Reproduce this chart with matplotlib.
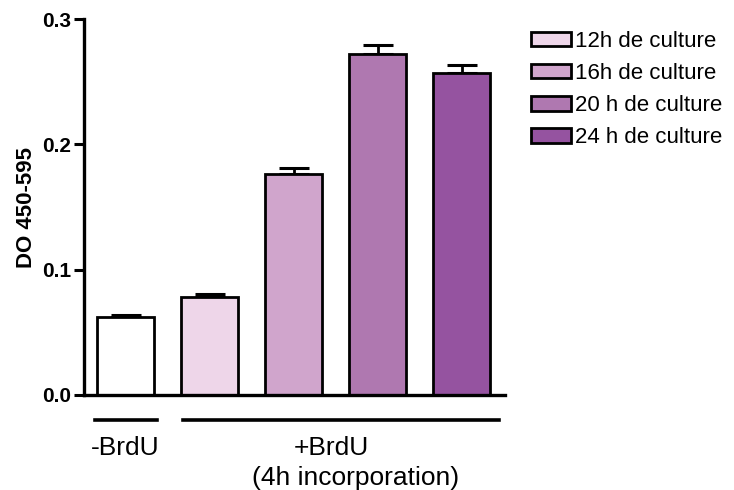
import matplotlib
matplotlib.use("Agg")
import matplotlib.pyplot as plt
from matplotlib.patches import Patch
from matplotlib.lines import Line2D

plt.rcParams['font.family'] = ['Liberation Sans', 'DejaVu Sans']

# data
conditions = ["-BrdU", "12h de culture", "16h de culture", "20 h de culture", "24 h de culture"]
values = [0.062, 0.078, 0.176, 0.272, 0.257]
errors = [0.0015, 0.0022, 0.0048, 0.0075, 0.0065]
colors = ["#FFFFFF", "#EED6E9", "#D0A5CC", "#AF78B0", "#9553A0"]
yticks = [0.0, 0.1, 0.2, 0.3]

fig = plt.figure(figsize=(7.34, 4.9), dpi=100)
ax = fig.add_axes([0.1144, 0.194, 0.574, 0.767])

x = list(range(len(values)))
ax.bar(x, values, width=0.68, color=colors, edgecolor="black", linewidth=2.0, zorder=2)
ax.errorbar(x, values, yerr=[[0] * len(errors), errors], fmt="none", ecolor="black",
            elinewidth=2.0, capsize=11, capthick=2.2, zorder=1)

ax.set_xlim(-0.5, 4.52)
ax.set_ylim(0, 0.3)
ax.set_yticks(yticks)
ax.set_yticklabels([f"{t:.1f}" for t in yticks], fontsize=15, fontweight="bold")
ax.set_xticks([])
ax.tick_params(axis="y", length=7, width=2.2, pad=2)
for s in ["top", "right"]:
    ax.spines[s].set_visible(False)
for s in ["left", "bottom"]:
    ax.spines[s].set_linewidth(2.4)
ax.set_ylabel("DO 450-595", fontsize=16, fontweight="bold", labelpad=4)

# group lines and labels below the axis
trans = ax.get_xaxis_transform()
ax.add_line(Line2D([-0.37, 0.37], [-0.068, -0.068], transform=trans, color="black", lw=2.6, clip_on=False))
ax.add_line(Line2D([0.68, 4.45], [-0.068, -0.068], transform=trans, color="black", lw=2.6, clip_on=False))
ax.text(-0.01, -0.14, "-BrdU", transform=trans, ha="center", va="center", fontsize=19)
ax.text(2.45, -0.14, "+BrdU", transform=trans, ha="center", va="center", fontsize=19)
ax.text(2.74, -0.222, "(4h incorporation)", transform=trans, ha="center", va="center", fontsize=19)

handles = [Patch(facecolor=c, edgecolor="black", linewidth=2.0) for c in colors[1:]]
fig.legend(handles, conditions[1:], loc="upper left", bbox_to_anchor=(0.711, 0.955),
           frameon=False, fontsize=16, handlelength=1.8, handleheight=0.62,
           handletextpad=0.2, labelspacing=0.5, borderaxespad=0)

fig.savefig("out.png", dpi=100)
